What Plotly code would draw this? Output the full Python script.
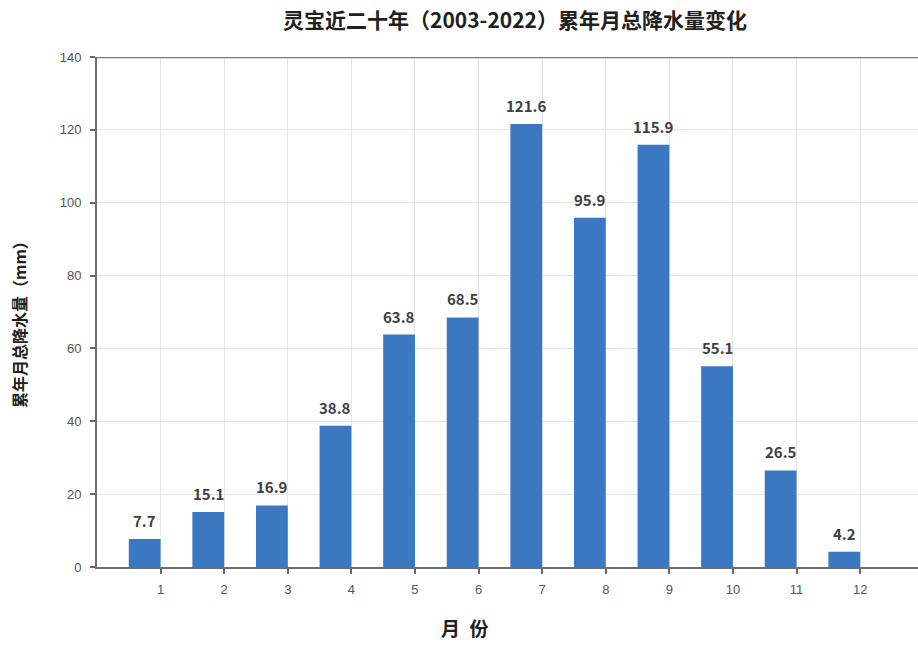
import plotly.graph_objects as go

# Monthly accumulated precipitation, Lingbao 2003-2022
months = [1, 2, 3, 4, 5, 6, 7, 8, 9, 10, 11, 12]
precip = [7.7, 15.1, 16.9, 38.8, 63.8, 68.5, 121.6, 95.9, 115.9, 55.1, 26.5, 4.2]
y_ticks = [0, 20, 40, 60, 80, 100, 120, 140]

title_text = "灵宝近二十年（2003-2022）累年月总降水量变化"
x_title = "月\u2002份"
y_title = "累年月总降水量（mm）"

cjk = "Noto Sans CJK SC"
bar_width = 0.5

# Plot-area geometry in pixels
W, H = 918, 646
L, R, T, B = 97, 0, 57, 79
pw, ph = W - L - R, H - T - B

fig = go.Figure()
fig.add_trace(go.Bar(
    x=months,
    y=precip,
    width=bar_width,
    offset=-bar_width,
    marker=dict(color="#3A78C2", line=dict(width=0)),
    hoverinfo="x+y",
))

# Value labels floating above each bar
for m, v in zip(months, precip):
    fig.add_annotation(
        x=m - bar_width / 2, y=v, xref="x", yref="y",
        text=f"{v:.1f}", showarrow=False,
        yanchor="bottom", yshift=6,
        font=dict(family=cjk, size=15, color="#404040", weight="bold"),
    )

# X-axis title
fig.add_annotation(
    xref="paper", yref="paper",
    x=(465 - L) / pw, y=-(627 - (H - B)) / ph,
    xanchor="center", yanchor="middle",
    text=x_title, showarrow=False,
    font=dict(family=cjk, size=19, color="#202020", weight="bold"),
)

# Y-axis title (rotated)
fig.add_annotation(
    xref="paper", yref="paper",
    x=-(L - 19) / pw, y=1 - (321 - T) / ph,
    xanchor="center", yanchor="middle", textangle=-90,
    text=y_title, showarrow=False,
    font=dict(family=cjk, size=16, color="#202020", weight="bold"),
)

fig.update_layout(
    width=W,
    height=H,
    paper_bgcolor="white",
    plot_bgcolor="white",
    showlegend=False,
    margin=dict(l=L, r=R, t=T, b=B),
    title=dict(
        text=title_text,
        x=0.561, xanchor="center",
        y=0.968, yanchor="middle",
        font=dict(family=cjk, size=21, color="#202020", weight="bold"),
    ),
    xaxis=dict(
        range=[0, 12.91],
        tickvals=months,
        ticktext=[str(m) for m in months],
        tickfont=dict(family="Liberation Sans", size=13, color="#555555"),
        ticks="outside", ticklen=5, tickcolor="#666666", tickwidth=1.5,
        ticklabelstandoff=4,
        showline=True, linecolor="#6f6f6f", linewidth=2,
        showgrid=True, gridcolor="#e6e6e6", gridwidth=1,
        zeroline=False,
    ),
    yaxis=dict(
        range=[0, 140],
        tickvals=y_ticks,
        tickfont=dict(family="Liberation Sans", size=13, color="#555555"),
        ticks="outside", ticklen=5, tickcolor="#666666", tickwidth=1.5,
        ticklabelstandoff=6,
        showline=True, linecolor="#6f6f6f", linewidth=2,
        showgrid=True, gridcolor="#e6e6e6", gridwidth=1,
        zeroline=False,
    ),
)

# Dark border line along the top of the plot area
fig.add_shape(type="line", xref="paper", yref="y", x0=0, x1=1, y0=140, y1=140,
              line=dict(color="#7a7a7a", width=2.5))

fig.write_html("out.html")
